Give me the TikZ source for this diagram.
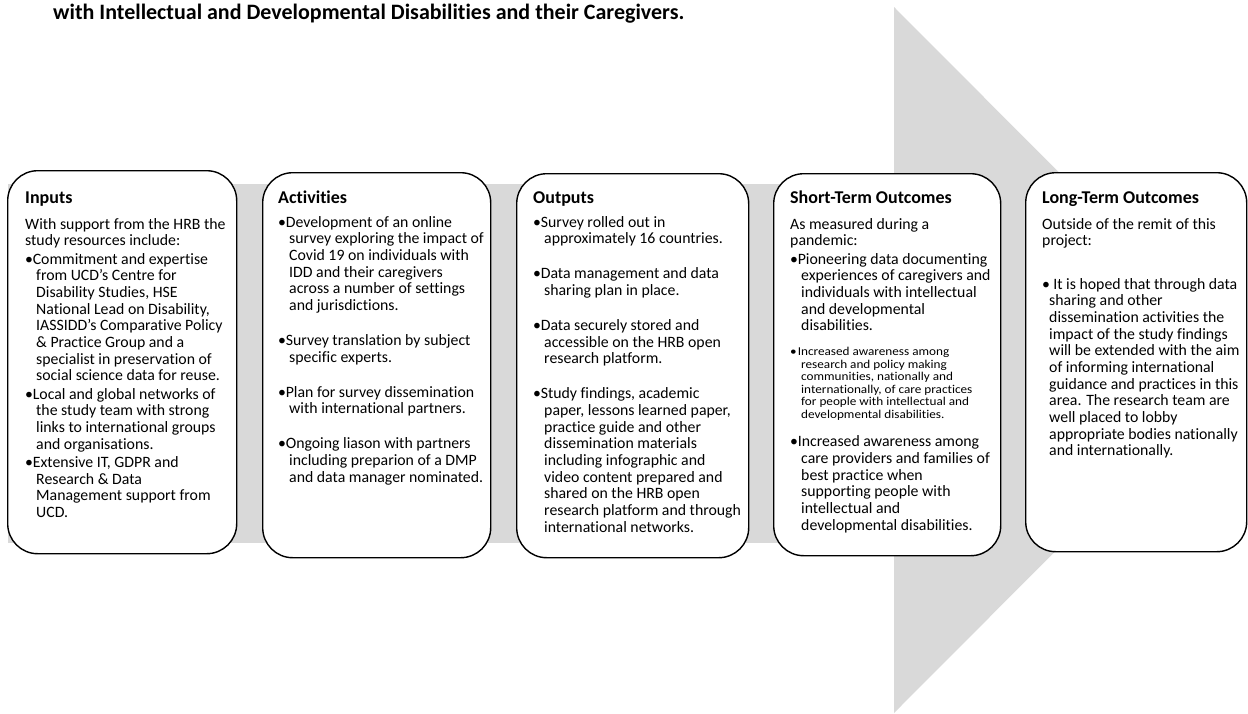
\documentclass[tikz,border=0pt]{standalone}
\usepackage{fontspec}
\setmainfont{Carlito}[Ligatures=NoCommon]
\newfontfamily\smallstretch{Carlito}[FakeStretch=1.1,Ligatures=NoCommon]
\definecolor{bandgray}{RGB}{217,217,217}
\tikzset{
  box/.style={draw=black, line width=1.4pt, fill=white, rounded corners=30pt, anchor=north west, inner sep=0pt},
  head/.style={anchor=base west, inner sep=0pt, font=\bfseries\fontsize{18}{21}\selectfont},
  body/.style={anchor=base west, inner sep=0pt},
  titletext/.style={anchor=base west, inner sep=0pt, font=\bfseries\fontsize{22}{26}\selectfont},
}
\newlength\hangw
\setlength\hangw{11pt}
\newcommand\apos{\char"27\relax}
\newcommand\bul{\par\hangindent=\hangw\hangafter=1\noindent\makebox[7.6pt][l]{•}}
\newcommand\bodytext[1]{\parbox[t]{260pt}{\fontsize{15.8}{16.67}\selectfont\parindent=0pt\parskip=1.7pt #1}}
\newcommand\gap{\par\vspace{16.67pt}}
\begin{document}
\begin{tikzpicture}[x=1pt,y=-1pt]
\useasboundingbox (0,0) rectangle (1248,713);
% background arrow
\fill[bandgray] (8,184) rectangle (894,543);
\fill[bandgray] (894,7) -- (1246,360) -- (894,713) -- cycle;
% title
\node[titletext] (title) at (53,19) {with Intellectual and Developmental Disabilities and their Caregivers.};
% boxes
\node[box, minimum width=229pt, minimum height=383pt] (inputs) at (7,170) {};
\node[box, minimum width=228pt, minimum height=385pt] (activities) at (262,172) {};
\node[box, minimum width=232pt, minimum height=384pt] (outputs) at (516,173) {};
\node[box, minimum width=227pt, minimum height=382pt] (short) at (773,173) {};
\node[box, minimum width=221pt, minimum height=379pt] (long) at (1025,172) {};
% headings
\node[head] (inputs-h) at (25,203) {Inputs};
\node[head] (activities-h) at (278,203) {Activities};
\node[head] (outputs-h) at (533,203) {Outputs};
\node[head] (short-h) at (790,203) {Short-Term Outcomes};
\node[head] (long-h) at (1042,203) {Long-Term Outcomes};
% bodies
\node[body] (inputs-b) at (25,229) {\bodytext{%
With support from the HRB the\\study resources include:
\bul Commitment and expertise\\from UCD\apos s Centre for\\Disability Studies, HSE\\National Lead on Disability,\\IASSIDD\apos s Comparative Policy\\\&~Practice Group and a\\specialist in preservation of\\social science data for reuse.
\bul Local and global networks of\\the study team with strong\\links to international groups\\and organisations.
\bul Extensive IT, GDPR and\\Research \& Data\\Management support from\\UCD.\par}};
\node[body] (activities-b) at (278,227) {\bodytext{%
\bul Development of an online\\survey exploring the impact of\\Covid 19 on individuals with\\IDD and their caregivers\\across a number of settings\\and jurisdictions.
\gap\bul Survey translation by subject\\specific experts.
\gap\bul Plan for survey dissemination\\with international partners.
\gap\bul Ongoing liason with partners\\including preparion of a DMP\\and data manager nominated.\par}};
\node[body] (outputs-b) at (533,227) {\bodytext{%
\bul Survey rolled out in\\approximately 16 countries.
\gap\bul Data management and data\\sharing plan in place.
\gap\bul Data securely stored and\\accessible on the HRB open\\research platform.
\gap\bul Study findings, academic\\paper, lessons learned paper,\\practice guide and other\\dissemination materials\\including infographic and\\video content prepared and\\shared on the HRB open\\research platform and through\\international networks.\par}};
\node[body] (short-b) at (790,229) {\bodytext{%
As measured during a\\pandemic:
\bul Pioneering data documenting\\experiences of caregivers and\\individuals with intellectual\\and developmental\\disabilities.
\par\vspace{11pt}{\smallstretch\fontsize{12}{12.5}\selectfont\bul Increased awareness among\\research and policy making\\communities, nationally and\\internationally, of care practices\\for people with intellectual and\\developmental disabilities.\par}
\vspace{10pt}\bul Increased awareness among\\care providers and families of\\best practice when\\supporting people with\\intellectual and\\developmental disabilities.\par}};
\node[body] (long-b) at (1042,229) {\bodytext{\setlength\hangw{7pt}%
Outside of the remit of this\\project:
\par\vspace{25pt}\bul\ It is hoped that through data\\sharing and other\\dissemination activities the\\impact of the study findings\\will be extended with the aim\\of informing international\\guidance and practices in this\\area. The research team are\\well placed to lobby\\appropriate bodies nationally\\and internationally.\par}};
\end{tikzpicture}
\end{document}
